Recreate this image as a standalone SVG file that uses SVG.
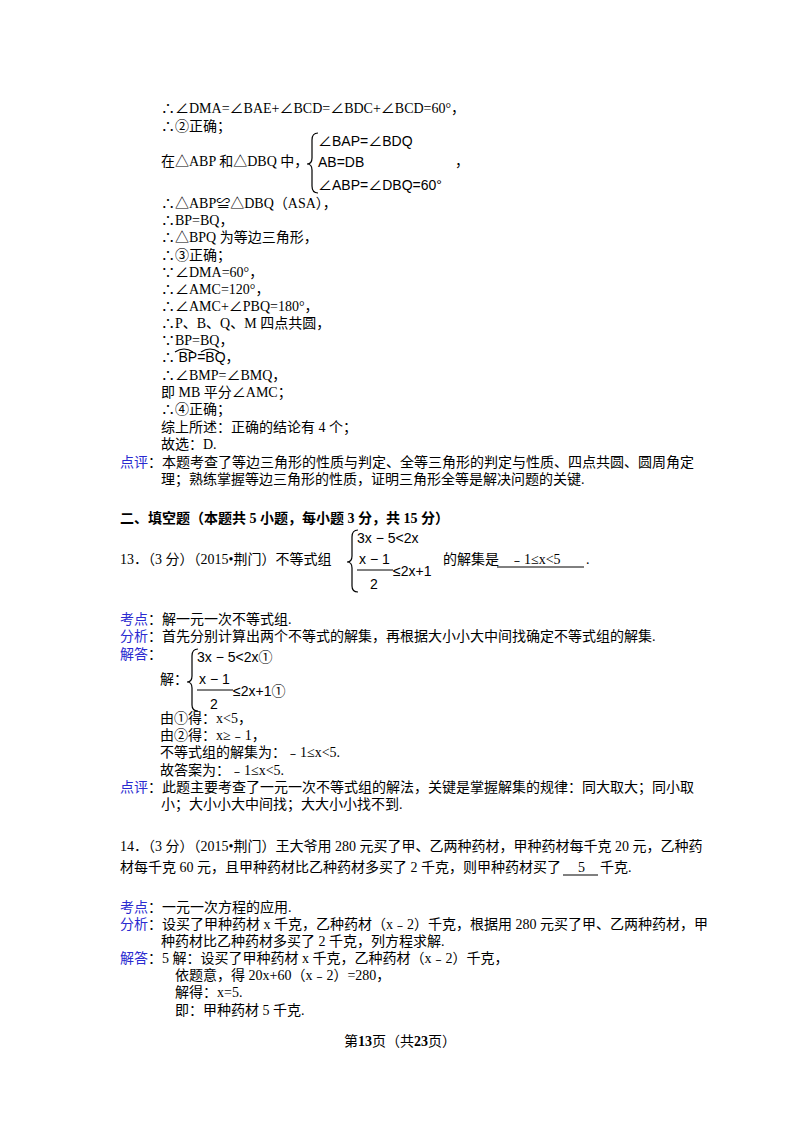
<svg xmlns="http://www.w3.org/2000/svg" width="800" height="1132" viewBox="0 0 800 1132">
<style>
text{font-family:"Liberation Serif","Noto Sans CJK SC",serif;font-size:14px;fill:#000}
.m{font-family:"Liberation Sans","Noto Sans CJK SC",sans-serif;font-size:14px}
.b{color:#22c;fill:#2a2ad0}
.h{font-weight:bold;font-size:14px}
.br{fill:none;stroke:#000;stroke-width:1.2}
</style>
<rect width="800" height="1132" fill="#fff"/>
<text x="161" y="113">∴∠DMA=∠BAE+∠BCD=∠BDC+∠BCD=60°，</text>
<text x="161" y="131">∴②正确；</text>
<text x="161" y="166">在△ABP 和△DBQ 中，</text>
<path class="br" d="M318 133 Q312 133 312 140 L312 158 Q312 164 307 164 Q312 164 312 170 L312 186 Q312 193 318 193"/>
<text class="m" x="318" y="146">∠BAP=∠BDQ</text>
<text class="m" x="318" y="167">AB=DB</text>
<text class="m" x="318" y="190">∠ABP=∠DBQ=60°</text>
<text x="455" y="166">，</text>
<text x="161" y="208">∴△ABP≌△DBQ（ASA），</text>
<text x="161" y="225">∴BP=BQ，</text>
<text x="161" y="242">∴△BPQ 为等边三角形，</text>
<text x="161" y="260">∴③正确；</text>
<text x="161" y="277">∵∠DMA=60°，</text>
<text x="161" y="294">∴∠AMC=120°，</text>
<text x="161" y="311">∴∠AMC+∠PBQ=180°，</text>
<text x="161" y="328">∴P、B、Q、M 四点共圆，</text>
<text x="161" y="345">∵BP=BQ，</text>
<text x="161" y="362">∴ <tspan class="m">BP=BQ</tspan>，</text>
<path class="br" stroke-width="0.8" d="M175 352 Q184 346 193 352 M201 352 Q210 346 219 352"/>
<text x="161" y="380">∴∠BMP=∠BMQ，</text>
<text x="161" y="397">即 MB 平分∠AMC；</text>
<text x="161" y="414">∴④正确；</text>
<text x="161" y="432">综上所述：正确的结论有 4 个；</text>
<text x="161" y="449">故选：D.</text>
<text x="120" y="467"><tspan class="b">点评</tspan>：本题考查了等边三角形的性质与判定、全等三角形的判定与性质、四点共圆、圆周角定</text>
<text x="161" y="484">理；熟练掌握等边三角形的性质，证明三角形全等是解决问题的关键.</text>
<text class="h" x="120" y="523">二、填空题（本题共 5 小题，每小题 3 分，共 15 分）</text>
<text x="120" y="564">13．（3 分）（2015•荆门）不等式组</text>
<path class="br" d="M358 530 Q352 530 352 537 L352 556 Q352 562 347 562 Q352 562 352 568 L352 586 Q352 592 358 592"/>
<text class="m" x="357" y="543">3x − 5&lt;2x</text>
<text class="m" x="359" y="564">x − 1</text>
<line x1="357" y1="570" x2="393" y2="570" stroke="#000"/>
<text class="m" x="370" y="589">2</text>
<text class="m" x="393" y="576">≤2x+1</text>
<text x="443" y="564">的解集是</text>
<text x="510" y="564">﹣1≤x&lt;5</text>
<line x1="497" y1="567" x2="584" y2="567" stroke="#000"/>
<text x="586" y="564">.</text>
<text x="120" y="624"><tspan class="b">考点</tspan>：解一元一次不等式组.</text>
<text x="120" y="641"><tspan class="b">分析</tspan>：首先分别计算出两个不等式的解集，再根据大小小大中间找确定不等式组的解集.</text>
<text x="120" y="659"><tspan class="b">解答</tspan>：</text>
<path class="br" d="M198 649 Q192 649 192 656 L192 676 Q192 682 187 682 Q192 682 192 688 L192 705 Q192 711 198 711"/>
<text class="m" x="197" y="662">3x − 5&lt;2x①</text>
<text class="m" x="199" y="684">x − 1</text>
<line x1="197" y1="690" x2="233" y2="690" stroke="#000"/>
<text class="m" x="210" y="709">2</text>
<text class="m" x="233" y="696">≤2x+1①</text>
<text x="160" y="684">解：</text>
<text x="160" y="723">由①得：x&lt;5，</text>
<text x="160" y="740">由②得：x≥﹣1，</text>
<text x="160" y="757">不等式组的解集为：﹣1≤x&lt;5.</text>
<text x="160" y="775">故答案为：﹣1≤x&lt;5.</text>
<text x="120" y="792"><tspan class="b">点评</tspan>：此题主要考查了一元一次不等式组的解法，关键是掌握解集的规律：同大取大；同小取</text>
<text x="161" y="809">小；大小小大中间找；大大小小找不到.</text>
<text x="120" y="851">14．（3 分）（2015•荆门）王大爷用 280 元买了甲、乙两种药材，甲种药材每千克 20 元，乙种药</text>
<text x="120" y="872">材每千克 60 元，且甲种药材比乙种药材多买了 2 千克，则甲种药材买了</text>
<text x="578" y="872">5</text>
<line x1="563" y1="875" x2="598" y2="875" stroke="#000"/>
<text x="600" y="872">千克.</text>
<text x="120" y="912"><tspan class="b">考点</tspan>：一元一次方程的应用.</text>
<text x="120" y="929"><tspan class="b">分析</tspan>：设买了甲种药材 x 千克，乙种药材（x﹣2）千克，根据用 280 元买了甲、乙两种药材，甲</text>
<text x="161" y="946">种药材比乙种药材多买了 2 千克，列方程求解.</text>
<text x="120" y="963"><tspan class="b">解答</tspan>：5 解：设买了甲种药材 x 千克，乙种药材（x﹣2）千克，</text>
<text x="175" y="980">依题意，得 20x+60（x﹣2）=280，</text>
<text x="175" y="997">解得：x=5.</text>
<text x="175" y="1015">即：甲种药材 5 千克.</text>
<text x="400" y="1046" text-anchor="middle" font-size="12">第<tspan font-weight="bold">13</tspan>页（共<tspan font-weight="bold">23</tspan>页）</text>
</svg>
